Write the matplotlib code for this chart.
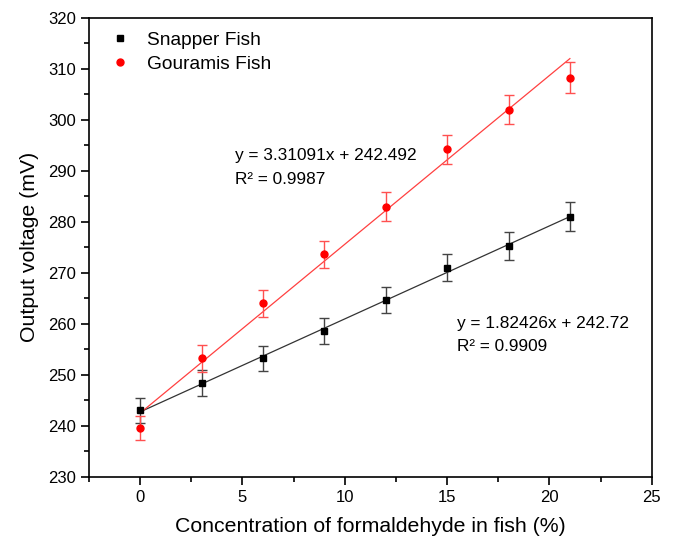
import matplotlib.pyplot as plt
from matplotlib.ticker import MultipleLocator
from matplotlib.lines import Line2D
import numpy as np

plt.rcParams['font.family'] = ['Liberation Sans', 'DejaVu Sans']

# data
conc = [0, 3, 6, 9, 12, 15, 18, 21]
snapper = [243.0, 248.4, 253.2, 258.6, 264.7, 271.0, 275.3, 281.0]
snapper_err = [2.4, 2.5, 2.5, 2.6, 2.6, 2.6, 2.7, 2.8]
gouramis = [239.6, 253.2, 264.0, 273.6, 283.0, 294.2, 302.0, 308.3]
gouramis_err = [2.4, 2.6, 2.7, 2.7, 2.8, 2.9, 2.9, 3.0]

# linear fits as printed on the chart
snapper_fit = (1.82426, 242.72)
gouramis_fit = (3.31091, 242.492)

fig = plt.figure(figsize=(6.74, 5.43), dpi=100)
ax = fig.add_axes([0.132, 0.122, 0.835, 0.845])

xfit = np.array([conc[0], conc[-1]])
ax.plot(xfit, snapper_fit[0] * xfit + snapper_fit[1], color='#333333', lw=0.9)
ax.plot(xfit, gouramis_fit[0] * xfit + gouramis_fit[1], color='#ff4040', lw=0.9)

ax.errorbar(conc, snapper, yerr=snapper_err, fmt='s', color='black', ms=4.5,
            ecolor='#444444', elinewidth=1, capsize=3.5)
ax.errorbar(conc, gouramis, yerr=gouramis_err, fmt='o', color='red', ms=5,
            ecolor='#ff5050', elinewidth=1, capsize=3.5)

ax.text(4.65, 290.65, 'y = 3.31091x + 242.492\nR² = 0.9987', fontsize=12.4,
        linespacing=1.7, va='center')
ax.text(15.5, 257.8, 'y = 1.82426x + 242.72\nR² = 0.9909', fontsize=12.4,
        linespacing=1.7, va='center')

ax.set_xlim(-2.5, 25)
ax.set_ylim(230, 320)
ax.xaxis.set_major_locator(MultipleLocator(5))
ax.xaxis.set_minor_locator(MultipleLocator(2.5))
ax.yaxis.set_major_locator(MultipleLocator(10))
ax.yaxis.set_minor_locator(MultipleLocator(5))
ax.tick_params(which='both', direction='out', top=False, right=False, labelsize=12,
               width=1.2)
ax.tick_params(which='major', length=6)
ax.tick_params(which='minor', length=3.5)
for s in ax.spines.values():
    s.set_linewidth(1.2)

ax.set_xlabel('Concentration of formaldehyde in fish (%)', fontsize=15.3, labelpad=9)
ax.set_ylabel('Output voltage (mV)', fontsize=15.3, labelpad=6)

handles = [Line2D([], [], marker='s', ls='none', color='black', ms=4.5),
           Line2D([], [], marker='o', ls='none', color='red', ms=5)]
ax.legend(handles, ['Snapper Fish', 'Gouramis Fish'], loc='upper left', frameon=False,
          fontsize=13.8, handletextpad=0.5, borderaxespad=0.3, labelspacing=0.35,
          handlelength=1.82)

fig.savefig('out.png', dpi=100)
